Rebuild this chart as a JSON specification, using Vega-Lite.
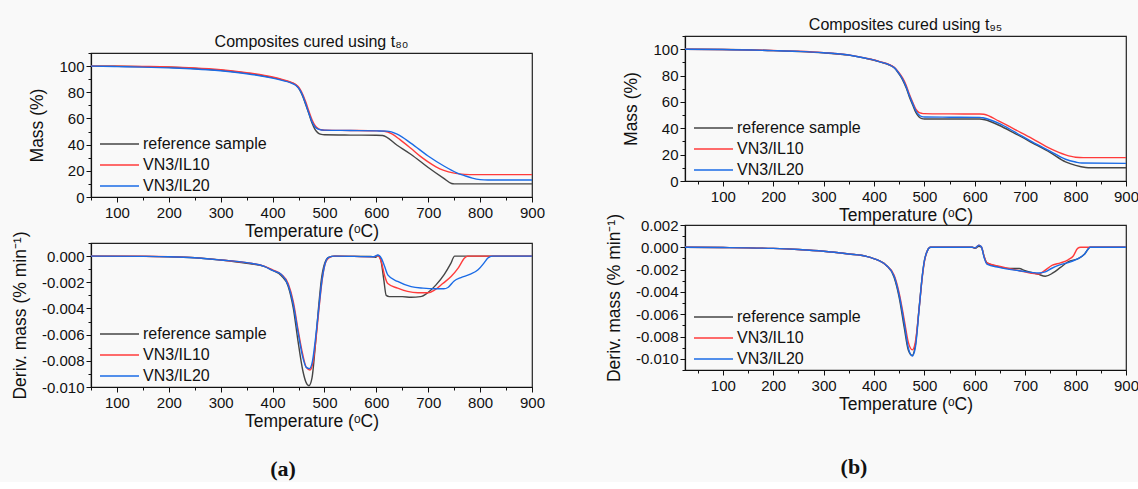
{
  "$schema": "https://vega.github.io/schema/vega-lite/v6.json",
  "background": "#f9f9f9",
  "padding": {"left": 10, "top": 16, "right": 2, "bottom": 2},
  "config": {
    "font": "Liberation Sans",
    "view": {"stroke": "#222222", "strokeWidth": 1.2},
    "axis": {"grid": false, "domainColor": "#111111", "domainWidth": 1.2, "tickColor": "#111111", "tickWidth": 1, "labelColor": "#111111", "labelFontSize": 15, "titleFontSize": 17.5, "titleFontWeight": "normal", "titleColor": "#111111", "labelPadding": 3, "titlePadding": 2, "labelFlush": false, "labelOverlap": false},
    "axisY": {"titlePadding": 12, "labelPadding": 2},
    "title": {"fontSize": 16, "fontWeight": "normal", "color": "#111111", "offset": -4},
    "legend": {"orient": "bottom-left", "title": null, "symbolType": "M-0.5,0H9.25", "symbolSize": 64, "symbolStrokeWidth": 1.5, "labelFontSize": 16, "labelColor": "#111111", "rowPadding": 5, "offset": 3, "padding": 0, "labelOffset": 33}
  },
  "datasets": {
    "massA": [
      {"s":"reference sample","T":50,"v":100},{"s":"reference sample","T":100,"v":99.9},{"s":"reference sample","T":150,"v":99.6},{"s":"reference sample","T":200,"v":99.1},{"s":"reference sample","T":250,"v":98.2},{"s":"reference sample","T":300,"v":96.8},{"s":"reference sample","T":350,"v":94.6},{"s":"reference sample","T":400,"v":91.2},{"s":"reference sample","T":420,"v":89.3},{"s":"reference sample","T":435,"v":87.5},{"s":"reference sample","T":445,"v":85.5},{"s":"reference sample","T":452,"v":82},{"s":"reference sample","T":458,"v":77},{"s":"reference sample","T":464,"v":70.5},{"s":"reference sample","T":470,"v":63.5},{"s":"reference sample","T":476,"v":56.5},{"s":"reference sample","T":482,"v":51.5},{"s":"reference sample","T":488,"v":48.8},{"s":"reference sample","T":494,"v":47.8},{"s":"reference sample","T":500,"v":47.5},{"s":"reference sample","T":550,"v":47.3},{"s":"reference sample","T":600,"v":47.2},{"s":"reference sample","T":612,"v":47},{"s":"reference sample","T":640,"v":39.5},{"s":"reference sample","T":667,"v":32.5},{"s":"reference sample","T":700,"v":22.5},{"s":"reference sample","T":730,"v":14.2},{"s":"reference sample","T":745,"v":10.3},{"s":"reference sample","T":750,"v":10},{"s":"reference sample","T":800,"v":10},{"s":"reference sample","T":900,"v":10},
      {"s":"VN3/IL10","T":50,"v":100},{"s":"VN3/IL10","T":100,"v":99.9},{"s":"VN3/IL10","T":150,"v":99.7},{"s":"VN3/IL10","T":200,"v":99.4},{"s":"VN3/IL10","T":250,"v":98.6},{"s":"VN3/IL10","T":300,"v":97.2},{"s":"VN3/IL10","T":350,"v":95},{"s":"VN3/IL10","T":400,"v":91.7},{"s":"VN3/IL10","T":420,"v":89.6},{"s":"VN3/IL10","T":435,"v":87.7},{"s":"VN3/IL10","T":445,"v":85.8},{"s":"VN3/IL10","T":452,"v":83},{"s":"VN3/IL10","T":458,"v":78.5},{"s":"VN3/IL10","T":464,"v":72.5},{"s":"VN3/IL10","T":470,"v":65.5},{"s":"VN3/IL10","T":476,"v":59},{"s":"VN3/IL10","T":482,"v":54.5},{"s":"VN3/IL10","T":488,"v":52.2},{"s":"VN3/IL10","T":494,"v":51.4},{"s":"VN3/IL10","T":500,"v":51},{"s":"VN3/IL10","T":550,"v":50.8},{"s":"VN3/IL10","T":600,"v":50.5},{"s":"VN3/IL10","T":615,"v":50.2},{"s":"VN3/IL10","T":630,"v":48.2},{"s":"VN3/IL10","T":645,"v":44},{"s":"VN3/IL10","T":667,"v":37},{"s":"VN3/IL10","T":685,"v":31},{"s":"VN3/IL10","T":699,"v":27},{"s":"VN3/IL10","T":715,"v":23},{"s":"VN3/IL10","T":730,"v":20.3},{"s":"VN3/IL10","T":750,"v":18.2},{"s":"VN3/IL10","T":770,"v":17.3},{"s":"VN3/IL10","T":790,"v":17.1},{"s":"VN3/IL10","T":900,"v":17.1},
      {"s":"VN3/IL20","T":50,"v":100},{"s":"VN3/IL20","T":100,"v":99.6},{"s":"VN3/IL20","T":150,"v":99.2},{"s":"VN3/IL20","T":200,"v":98.6},{"s":"VN3/IL20","T":250,"v":97.8},{"s":"VN3/IL20","T":300,"v":96.4},{"s":"VN3/IL20","T":350,"v":94.2},{"s":"VN3/IL20","T":400,"v":90.8},{"s":"VN3/IL20","T":420,"v":88.9},{"s":"VN3/IL20","T":435,"v":87.2},{"s":"VN3/IL20","T":445,"v":85.2},{"s":"VN3/IL20","T":452,"v":82.2},{"s":"VN3/IL20","T":458,"v":77.5},{"s":"VN3/IL20","T":464,"v":71},{"s":"VN3/IL20","T":470,"v":64},{"s":"VN3/IL20","T":476,"v":57.5},{"s":"VN3/IL20","T":482,"v":53.5},{"s":"VN3/IL20","T":488,"v":51.8},{"s":"VN3/IL20","T":494,"v":51.2},{"s":"VN3/IL20","T":500,"v":51.1},{"s":"VN3/IL20","T":550,"v":50.8},{"s":"VN3/IL20","T":600,"v":50.5},{"s":"VN3/IL20","T":620,"v":50.3},{"s":"VN3/IL20","T":640,"v":48},{"s":"VN3/IL20","T":667,"v":41},{"s":"VN3/IL20","T":699,"v":31.5},{"s":"VN3/IL20","T":731,"v":23.5},{"s":"VN3/IL20","T":755,"v":18.5},{"s":"VN3/IL20","T":770,"v":16.3},{"s":"VN3/IL20","T":785,"v":14.4},{"s":"VN3/IL20","T":800,"v":13.3},{"s":"VN3/IL20","T":815,"v":13},{"s":"VN3/IL20","T":900,"v":13}
    ],
    "derivA": [
      {"s":"reference sample","T":50,"v":0},{"s":"reference sample","T":150,"v":-0.00002},{"s":"reference sample","T":200,"v":-0.00005},{"s":"reference sample","T":250,"v":-0.00013},{"s":"reference sample","T":300,"v":-0.0003},{"s":"reference sample","T":350,"v":-0.00055},{"s":"reference sample","T":385,"v":-0.0008},{"s":"reference sample","T":400,"v":-0.0011},{"s":"reference sample","T":417,"v":-0.0015},{"s":"reference sample","T":430,"v":-0.0023},{"s":"reference sample","T":440,"v":-0.004},{"s":"reference sample","T":449,"v":-0.0065},{"s":"reference sample","T":458,"v":-0.0087},{"s":"reference sample","T":464,"v":-0.0096},{"s":"reference sample","T":470,"v":-0.0099},{"s":"reference sample","T":476,"v":-0.0093},{"s":"reference sample","T":482,"v":-0.007},{"s":"reference sample","T":488,"v":-0.0042},{"s":"reference sample","T":494,"v":-0.0018},{"s":"reference sample","T":500,"v":-0.0006},{"s":"reference sample","T":508,"v":-0.0001},{"s":"reference sample","T":520,"v":0},{"s":"reference sample","T":590,"v":-0.00003},{"s":"reference sample","T":598,"v":-0.0001},{"s":"reference sample","T":603,"v":0.00005},{"s":"reference sample","T":608,"v":-0.0002},{"s":"reference sample","T":614,"v":-0.0017},{"s":"reference sample","T":619,"v":-0.003},{"s":"reference sample","T":625,"v":-0.0031},{"s":"reference sample","T":650,"v":-0.0031},{"s":"reference sample","T":667,"v":-0.00314},{"s":"reference sample","T":685,"v":-0.0031},{"s":"reference sample","T":699,"v":-0.0028},{"s":"reference sample","T":715,"v":-0.0022},{"s":"reference sample","T":731,"v":-0.0014},{"s":"reference sample","T":743,"v":-0.0006},{"s":"reference sample","T":751,"v":0},{"s":"reference sample","T":900,"v":0},
      {"s":"VN3/IL10","T":50,"v":0},{"s":"VN3/IL10","T":150,"v":-0.00001},{"s":"VN3/IL10","T":200,"v":-0.00004},{"s":"VN3/IL10","T":250,"v":-0.00012},{"s":"VN3/IL10","T":300,"v":-0.0003},{"s":"VN3/IL10","T":350,"v":-0.0005},{"s":"VN3/IL10","T":385,"v":-0.00078},{"s":"VN3/IL10","T":400,"v":-0.00105},{"s":"VN3/IL10","T":417,"v":-0.0014},{"s":"VN3/IL10","T":430,"v":-0.0021},{"s":"VN3/IL10","T":440,"v":-0.0035},{"s":"VN3/IL10","T":449,"v":-0.0056},{"s":"VN3/IL10","T":458,"v":-0.0075},{"s":"VN3/IL10","T":465,"v":-0.0085},{"s":"VN3/IL10","T":472,"v":-0.0087},{"s":"VN3/IL10","T":478,"v":-0.0081},{"s":"VN3/IL10","T":484,"v":-0.0062},{"s":"VN3/IL10","T":490,"v":-0.0038},{"s":"VN3/IL10","T":496,"v":-0.0017},{"s":"VN3/IL10","T":502,"v":-0.0005},{"s":"VN3/IL10","T":510,"v":-0.0001},{"s":"VN3/IL10","T":520,"v":0},{"s":"VN3/IL10","T":595,"v":-0.00005},{"s":"VN3/IL10","T":603,"v":0.00005},{"s":"VN3/IL10","T":610,"v":-0.0005},{"s":"VN3/IL10","T":616,"v":-0.0015},{"s":"VN3/IL10","T":622,"v":-0.0021},{"s":"VN3/IL10","T":641,"v":-0.00245},{"s":"VN3/IL10","T":660,"v":-0.0027},{"s":"VN3/IL10","T":680,"v":-0.0028},{"s":"VN3/IL10","T":700,"v":-0.0028},{"s":"VN3/IL10","T":712,"v":-0.0026},{"s":"VN3/IL10","T":728,"v":-0.0021},{"s":"VN3/IL10","T":744,"v":-0.00156},{"s":"VN3/IL10","T":758,"v":-0.0009},{"s":"VN3/IL10","T":770,"v":-0.00015},{"s":"VN3/IL10","T":776,"v":0},{"s":"VN3/IL10","T":900,"v":0},
      {"s":"VN3/IL20","T":50,"v":0},{"s":"VN3/IL20","T":150,"v":-0.00002},{"s":"VN3/IL20","T":200,"v":-0.00005},{"s":"VN3/IL20","T":250,"v":-0.00013},{"s":"VN3/IL20","T":300,"v":-0.0003},{"s":"VN3/IL20","T":350,"v":-0.0005},{"s":"VN3/IL20","T":385,"v":-0.0008},{"s":"VN3/IL20","T":400,"v":-0.0011},{"s":"VN3/IL20","T":417,"v":-0.0014},{"s":"VN3/IL20","T":430,"v":-0.0022},{"s":"VN3/IL20","T":440,"v":-0.0037},{"s":"VN3/IL20","T":449,"v":-0.0058},{"s":"VN3/IL20","T":458,"v":-0.0077},{"s":"VN3/IL20","T":465,"v":-0.0085},{"s":"VN3/IL20","T":471,"v":-0.0086},{"s":"VN3/IL20","T":477,"v":-0.008},{"s":"VN3/IL20","T":483,"v":-0.0062},{"s":"VN3/IL20","T":489,"v":-0.004},{"s":"VN3/IL20","T":495,"v":-0.0019},{"s":"VN3/IL20","T":501,"v":-0.0006},{"s":"VN3/IL20","T":508,"v":-0.0001},{"s":"VN3/IL20","T":520,"v":0},{"s":"VN3/IL20","T":595,"v":-0.00005},{"s":"VN3/IL20","T":603,"v":0.00008},{"s":"VN3/IL20","T":610,"v":-0.0002},{"s":"VN3/IL20","T":616,"v":-0.0008},{"s":"VN3/IL20","T":622,"v":-0.00143},{"s":"VN3/IL20","T":641,"v":-0.00194},{"s":"VN3/IL20","T":667,"v":-0.00233},{"s":"VN3/IL20","T":690,"v":-0.00245},{"s":"VN3/IL20","T":712,"v":-0.0025},{"s":"VN3/IL20","T":730,"v":-0.0025},{"s":"VN3/IL20","T":738,"v":-0.0024},{"s":"VN3/IL20","T":750,"v":-0.0019},{"s":"VN3/IL20","T":763,"v":-0.00164},{"s":"VN3/IL20","T":780,"v":-0.0014},{"s":"VN3/IL20","T":796,"v":-0.00105},{"s":"VN3/IL20","T":808,"v":-0.0005},{"s":"VN3/IL20","T":815,"v":-0.00015},{"s":"VN3/IL20","T":824,"v":0},{"s":"VN3/IL20","T":900,"v":0}
    ],
    "massB": [
      {"s":"reference sample","T":25,"v":100},{"s":"reference sample","T":100,"v":99.8},{"s":"reference sample","T":200,"v":98.9},{"s":"reference sample","T":250,"v":98.2},{"s":"reference sample","T":300,"v":97.2},{"s":"reference sample","T":350,"v":95.5},{"s":"reference sample","T":384,"v":93},{"s":"reference sample","T":410,"v":90.5},{"s":"reference sample","T":440,"v":86},{"s":"reference sample","T":450,"v":81},{"s":"reference sample","T":457,"v":76.5},{"s":"reference sample","T":464,"v":70.5},{"s":"reference sample","T":470,"v":64},{"s":"reference sample","T":477,"v":57.5},{"s":"reference sample","T":483,"v":52},{"s":"reference sample","T":489,"v":48.8},{"s":"reference sample","T":495,"v":47.3},{"s":"reference sample","T":500,"v":47},{"s":"reference sample","T":550,"v":47},{"s":"reference sample","T":610,"v":47},{"s":"reference sample","T":620,"v":46.5},{"s":"reference sample","T":648,"v":42.3},{"s":"reference sample","T":680,"v":36},{"s":"reference sample","T":714,"v":29},{"s":"reference sample","T":750,"v":21.5},{"s":"reference sample","T":780,"v":14.5},{"s":"reference sample","T":800,"v":11.8},{"s":"reference sample","T":820,"v":10.2},{"s":"reference sample","T":830,"v":10},{"s":"reference sample","T":900,"v":10},
      {"s":"VN3/IL10","T":25,"v":100},{"s":"VN3/IL10","T":100,"v":99.8},{"s":"VN3/IL10","T":200,"v":99},{"s":"VN3/IL10","T":250,"v":98.4},{"s":"VN3/IL10","T":300,"v":97.4},{"s":"VN3/IL10","T":350,"v":95.7},{"s":"VN3/IL10","T":384,"v":93.2},{"s":"VN3/IL10","T":410,"v":90.7},{"s":"VN3/IL10","T":440,"v":86.2},{"s":"VN3/IL10","T":450,"v":82},{"s":"VN3/IL10","T":457,"v":78},{"s":"VN3/IL10","T":464,"v":72.5},{"s":"VN3/IL10","T":470,"v":66},{"s":"VN3/IL10","T":477,"v":59.5},{"s":"VN3/IL10","T":483,"v":54.5},{"s":"VN3/IL10","T":489,"v":52},{"s":"VN3/IL10","T":495,"v":51.3},{"s":"VN3/IL10","T":500,"v":51.1},{"s":"VN3/IL10","T":550,"v":50.9},{"s":"VN3/IL10","T":610,"v":50.8},{"s":"VN3/IL10","T":618,"v":50.6},{"s":"VN3/IL10","T":648,"v":45.4},{"s":"VN3/IL10","T":680,"v":39},{"s":"VN3/IL10","T":714,"v":32.2},{"s":"VN3/IL10","T":750,"v":24.5},{"s":"VN3/IL10","T":780,"v":19.8},{"s":"VN3/IL10","T":800,"v":18},{"s":"VN3/IL10","T":815,"v":17.7},{"s":"VN3/IL10","T":900,"v":17.7},
      {"s":"VN3/IL20","T":25,"v":100},{"s":"VN3/IL20","T":100,"v":99.8},{"s":"VN3/IL20","T":200,"v":98.9},{"s":"VN3/IL20","T":250,"v":98.3},{"s":"VN3/IL20","T":300,"v":97.3},{"s":"VN3/IL20","T":350,"v":95.6},{"s":"VN3/IL20","T":384,"v":93.1},{"s":"VN3/IL20","T":410,"v":90.6},{"s":"VN3/IL20","T":440,"v":86},{"s":"VN3/IL20","T":450,"v":81.5},{"s":"VN3/IL20","T":457,"v":77.2},{"s":"VN3/IL20","T":464,"v":71.3},{"s":"VN3/IL20","T":470,"v":65},{"s":"VN3/IL20","T":477,"v":58.5},{"s":"VN3/IL20","T":483,"v":53.3},{"s":"VN3/IL20","T":489,"v":50.3},{"s":"VN3/IL20","T":495,"v":48.8},{"s":"VN3/IL20","T":500,"v":48.5},{"s":"VN3/IL20","T":550,"v":48.4},{"s":"VN3/IL20","T":610,"v":48.3},{"s":"VN3/IL20","T":618,"v":47.8},{"s":"VN3/IL20","T":648,"v":43.7},{"s":"VN3/IL20","T":680,"v":37},{"s":"VN3/IL20","T":714,"v":29.6},{"s":"VN3/IL20","T":750,"v":22.5},{"s":"VN3/IL20","T":780,"v":16.5},{"s":"VN3/IL20","T":800,"v":14.4},{"s":"VN3/IL20","T":812,"v":13.6},{"s":"VN3/IL20","T":900,"v":13.4}
    ],
    "derivB": [
      {"s":"reference sample","T":25,"v":0},{"s":"reference sample","T":100,"v":-0.00002},{"s":"reference sample","T":200,"v":-0.0001},{"s":"reference sample","T":250,"v":-0.0002},{"s":"reference sample","T":300,"v":-0.00035},{"s":"reference sample","T":350,"v":-0.0006},{"s":"reference sample","T":384,"v":-0.0008},{"s":"reference sample","T":410,"v":-0.0012},{"s":"reference sample","T":424,"v":-0.0016},{"s":"reference sample","T":440,"v":-0.0027},{"s":"reference sample","T":450,"v":-0.0045},{"s":"reference sample","T":460,"v":-0.0072},{"s":"reference sample","T":468,"v":-0.0092},{"s":"reference sample","T":476,"v":-0.0097},{"s":"reference sample","T":482,"v":-0.0088},{"s":"reference sample","T":490,"v":-0.0052},{"s":"reference sample","T":496,"v":-0.0025},{"s":"reference sample","T":500,"v":-0.0012},{"s":"reference sample","T":506,"v":-0.0003},{"s":"reference sample","T":512,"v":0},{"s":"reference sample","T":595,"v":0},{"s":"reference sample","T":601,"v":-0.0001},{"s":"reference sample","T":608,"v":0.0001},{"s":"reference sample","T":613,"v":0},{"s":"reference sample","T":619,"v":-0.0009},{"s":"reference sample","T":624,"v":-0.0014},{"s":"reference sample","T":648,"v":-0.00175},{"s":"reference sample","T":670,"v":-0.0019},{"s":"reference sample","T":688,"v":-0.0019},{"s":"reference sample","T":700,"v":-0.0021},{"s":"reference sample","T":725,"v":-0.0024},{"s":"reference sample","T":740,"v":-0.0026},{"s":"reference sample","T":755,"v":-0.0023},{"s":"reference sample","T":770,"v":-0.0018},{"s":"reference sample","T":785,"v":-0.0013},{"s":"reference sample","T":806,"v":-0.001},{"s":"reference sample","T":818,"v":-0.0006},{"s":"reference sample","T":829,"v":0},{"s":"reference sample","T":900,"v":0},
      {"s":"VN3/IL10","T":25,"v":0},{"s":"VN3/IL10","T":100,"v":-0.00002},{"s":"VN3/IL10","T":200,"v":-0.0001},{"s":"VN3/IL10","T":250,"v":-0.0002},{"s":"VN3/IL10","T":300,"v":-0.00035},{"s":"VN3/IL10","T":350,"v":-0.0006},{"s":"VN3/IL10","T":384,"v":-0.0008},{"s":"VN3/IL10","T":410,"v":-0.0012},{"s":"VN3/IL10","T":424,"v":-0.0016},{"s":"VN3/IL10","T":440,"v":-0.0025},{"s":"VN3/IL10","T":450,"v":-0.0041},{"s":"VN3/IL10","T":460,"v":-0.0065},{"s":"VN3/IL10","T":468,"v":-0.0085},{"s":"VN3/IL10","T":476,"v":-0.0092},{"s":"VN3/IL10","T":482,"v":-0.0085},{"s":"VN3/IL10","T":490,"v":-0.0053},{"s":"VN3/IL10","T":496,"v":-0.0026},{"s":"VN3/IL10","T":500,"v":-0.0013},{"s":"VN3/IL10","T":506,"v":-0.0003},{"s":"VN3/IL10","T":512,"v":0},{"s":"VN3/IL10","T":595,"v":0},{"s":"VN3/IL10","T":601,"v":-0.00005},{"s":"VN3/IL10","T":608,"v":0.0002},{"s":"VN3/IL10","T":613,"v":0.00005},{"s":"VN3/IL10","T":619,"v":-0.0009},{"s":"VN3/IL10","T":624,"v":-0.0014},{"s":"VN3/IL10","T":648,"v":-0.0017},{"s":"VN3/IL10","T":688,"v":-0.0021},{"s":"VN3/IL10","T":710,"v":-0.0023},{"s":"VN3/IL10","T":727,"v":-0.0024},{"s":"VN3/IL10","T":735,"v":-0.0022},{"s":"VN3/IL10","T":754,"v":-0.0016},{"s":"VN3/IL10","T":770,"v":-0.0014},{"s":"VN3/IL10","T":786,"v":-0.0011},{"s":"VN3/IL10","T":795,"v":-0.0008},{"s":"VN3/IL10","T":804,"v":-0.0001},{"s":"VN3/IL10","T":810,"v":0},{"s":"VN3/IL10","T":900,"v":0},
      {"s":"VN3/IL20","T":25,"v":0},{"s":"VN3/IL20","T":100,"v":-0.00002},{"s":"VN3/IL20","T":200,"v":-0.0001},{"s":"VN3/IL20","T":250,"v":-0.0002},{"s":"VN3/IL20","T":300,"v":-0.00035},{"s":"VN3/IL20","T":350,"v":-0.0006},{"s":"VN3/IL20","T":384,"v":-0.0008},{"s":"VN3/IL20","T":410,"v":-0.0012},{"s":"VN3/IL20","T":424,"v":-0.0016},{"s":"VN3/IL20","T":440,"v":-0.0026},{"s":"VN3/IL20","T":450,"v":-0.0043},{"s":"VN3/IL20","T":460,"v":-0.0068},{"s":"VN3/IL20","T":468,"v":-0.009},{"s":"VN3/IL20","T":476,"v":-0.00975},{"s":"VN3/IL20","T":482,"v":-0.009},{"s":"VN3/IL20","T":490,"v":-0.0053},{"s":"VN3/IL20","T":496,"v":-0.0025},{"s":"VN3/IL20","T":500,"v":-0.0012},{"s":"VN3/IL20","T":506,"v":-0.0003},{"s":"VN3/IL20","T":512,"v":0},{"s":"VN3/IL20","T":595,"v":0},{"s":"VN3/IL20","T":601,"v":-0.00005},{"s":"VN3/IL20","T":608,"v":0.0002},{"s":"VN3/IL20","T":613,"v":0.00005},{"s":"VN3/IL20","T":619,"v":-0.001},{"s":"VN3/IL20","T":624,"v":-0.0015},{"s":"VN3/IL20","T":648,"v":-0.0018},{"s":"VN3/IL20","T":688,"v":-0.0021},{"s":"VN3/IL20","T":727,"v":-0.0023},{"s":"VN3/IL20","T":740,"v":-0.0022},{"s":"VN3/IL20","T":752,"v":-0.0019},{"s":"VN3/IL20","T":767,"v":-0.0016},{"s":"VN3/IL20","T":790,"v":-0.0013},{"s":"VN3/IL20","T":806,"v":-0.001},{"s":"VN3/IL20","T":818,"v":-0.0006},{"s":"VN3/IL20","T":829,"v":0},{"s":"VN3/IL20","T":900,"v":0}
    ]
  },
  "hconcat": [
    {
      "title": {"text": "(a)", "orient": "bottom", "anchor": "middle", "font": "Liberation Serif", "fontSize": 22, "fontWeight": "bold", "offset": 28.5, "dx": 5},
      "spacing": -11,
      "vconcat": [
        {
          "width": 441, "height": 7.5,
          "data": {"values": []},
          "mark": {"type": "rule"},
          "encoding": {},
          "view": {"stroke": null}
        },
        {
          "title": {"text": "Composites cured using t₈₀"},
          "width": 441, "height": 144,
          "data": {"name": "massA"},
          "mark": {"type": "line", "strokeWidth": 1.4, "interpolate": "monotone"},
          "encoding": {
            "x": {"field": "T", "type": "quantitative", "scale": {"domain": [50, 900], "nice": false, "zero": false}, "axis": {"title": "Temperature (ᵒC)", "values": [50,100,150,200,250,300,350,400,450,500,550,600,650,700,750,800,850,900], "labelExpr": "datum.value % 100 === 0 ? datum.label : ''", "tickSize": {"condition": {"test": "datum.value % 100 !== 0", "value": 3}, "value": 5}}},
            "y": {"field": "v", "type": "quantitative", "scale": {"domain": [0, 110], "nice": false}, "axis": {"title": "Mass (%)", "values": [0,10,20,30,40,50,60,70,80,90,100,110], "labelExpr": "datum.value % 20 === 0 && datum.value <= 100 ? datum.label : ''", "tickSize": {"condition": {"test": "datum.value % 20 !== 0", "value": 3}, "value": 5}}},
            "color": {"field": "s", "type": "nominal", "scale": {"domain": ["reference sample", "VN3/IL10", "VN3/IL20"], "range": ["#454545", "#ff3b3b", "#1a6be6"]}},
            "order": {"field": "T", "type": "quantitative"}
          }
        },
        {
          "width": 441, "height": 144,
          "data": {"name": "derivA"},
          "mark": {"type": "line", "strokeWidth": 1.4, "interpolate": "monotone"},
          "encoding": {
            "x": {"field": "T", "type": "quantitative", "scale": {"domain": [50, 900], "nice": false, "zero": false}, "axis": {"title": "Temperature (ᵒC)", "values": [50,100,150,200,250,300,350,400,450,500,550,600,650,700,750,800,850,900], "labelExpr": "datum.value % 100 === 0 ? datum.label : ''", "tickSize": {"condition": {"test": "datum.value % 100 !== 0", "value": 3}, "value": 5}}},
            "y": {"field": "v", "type": "quantitative", "scale": {"domain": [-0.010, 0.001], "nice": false, "zero": false}, "axis": {"title": "Deriv. mass (% min⁻¹)", "values": [-0.010,-0.009,-0.008,-0.007,-0.006,-0.005,-0.004,-0.003,-0.002,-0.001,0,0.001], "labelExpr": "abs(round(datum.value*1000)) % 2 === 0 ? replace(format(datum.value, '.3f'), '\u2212', '-') : ''", "tickSize": {"condition": {"test": "abs(round(datum.value*1000)) % 2 !== 0", "value": 3}, "value": 5}}},
            "color": {"field": "s", "type": "nominal", "scale": {"domain": ["reference sample", "VN3/IL10", "VN3/IL20"], "range": ["#454545", "#ff3b3b", "#1a6be6"]}},
            "order": {"field": "T", "type": "quantitative"}
          }
        }
      ],
      "resolve": {"scale": {"x": "independent", "y": "independent"}, "legend": {"color": "independent"}}
    },
    {
      "title": {"text": "(b)", "orient": "bottom", "anchor": "middle", "font": "Liberation Serif", "fontSize": 22, "fontWeight": "bold", "offset": 44, "dx": -18},
      "spacing": -13.5,
      "vconcat": [
        {
          "title": {"text": "Composites cured using t₉₅"},
          "width": 441, "height": 145,
          "data": {"name": "massB"},
          "mark": {"type": "line", "strokeWidth": 1.4, "interpolate": "monotone"},
          "encoding": {
            "x": {"field": "T", "type": "quantitative", "scale": {"domain": [25, 900], "nice": false, "zero": false}, "axis": {"title": "Temperature (ᵒC)", "values": [50,100,150,200,250,300,350,400,450,500,550,600,650,700,750,800,850,900], "labelExpr": "datum.value % 100 === 0 ? datum.label : ''", "tickSize": {"condition": {"test": "datum.value % 100 !== 0", "value": 3}, "value": 5}}},
            "y": {"field": "v", "type": "quantitative", "scale": {"domain": [0, 110], "nice": false}, "axis": {"title": "Mass (%)", "values": [0,10,20,30,40,50,60,70,80,90,100,110], "labelExpr": "datum.value % 20 === 0 && datum.value <= 100 ? datum.label : ''", "tickSize": {"condition": {"test": "datum.value % 20 !== 0", "value": 3}, "value": 5}}},
            "color": {"field": "s", "type": "nominal", "scale": {"domain": ["reference sample", "VN3/IL10", "VN3/IL20"], "range": ["#454545", "#ff3b3b", "#1a6be6"]}},
            "order": {"field": "T", "type": "quantitative"}
          }
        },
        {
          "width": 441, "height": 145,
          "data": {"name": "derivB"},
          "mark": {"type": "line", "strokeWidth": 1.4, "interpolate": "monotone"},
          "encoding": {
            "x": {"field": "T", "type": "quantitative", "scale": {"domain": [25, 900], "nice": false, "zero": false}, "axis": {"title": "Temperature (ᵒC)", "values": [50,100,150,200,250,300,350,400,450,500,550,600,650,700,750,800,850,900], "labelExpr": "datum.value % 100 === 0 ? datum.label : ''", "tickSize": {"condition": {"test": "datum.value % 100 !== 0", "value": 3}, "value": 5}}},
            "y": {"field": "v", "type": "quantitative", "scale": {"domain": [-0.011, 0.002], "nice": false, "zero": false}, "axis": {"title": "Deriv. mass (% min⁻¹)", "values": [-0.011,-0.010,-0.009,-0.008,-0.007,-0.006,-0.005,-0.004,-0.003,-0.002,-0.001,0,0.001,0.002], "labelExpr": "abs(round(datum.value*1000)) % 2 === 0 ? replace(format(datum.value, '.3f'), '\u2212', '-') : ''", "tickSize": {"condition": {"test": "abs(round(datum.value*1000)) % 2 !== 0", "value": 3}, "value": 5}}},
            "color": {"field": "s", "type": "nominal", "scale": {"domain": ["reference sample", "VN3/IL10", "VN3/IL20"], "range": ["#454545", "#ff3b3b", "#1a6be6"]}},
            "order": {"field": "T", "type": "quantitative"}
          }
        }
      ],
      "resolve": {"scale": {"x": "independent", "y": "independent"}, "legend": {"color": "independent"}}
    }
  ],
  "spacing": 58,
  "resolve": {"scale": {"x": "independent", "y": "independent"}, "legend": {"color": "independent"}}
}
